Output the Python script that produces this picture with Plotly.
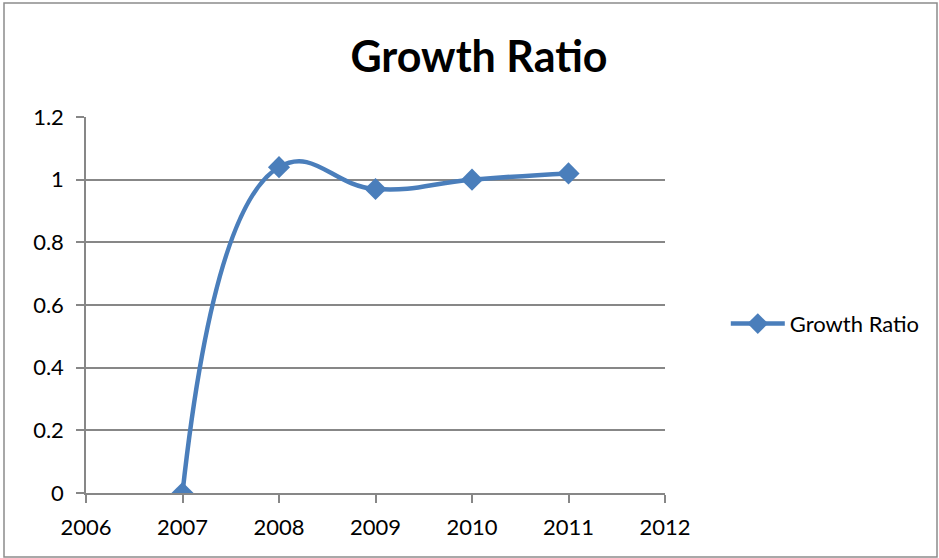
import plotly.graph_objects as go

# Growth ratio by year
years = [2007, 2008, 2009, 2010, 2011]
growth_ratio = [0.0, 1.04, 0.97, 1.0, 1.02]
x_ticks = [2006, 2007, 2008, 2009, 2010, 2011, 2012]
y_ticks = [0, 0.2, 0.4, 0.6, 0.8, 1, 1.2]

FONT = "Lato, 'Open Sans', sans-serif"
BLUE = "#4A7EBB"
GRID = "#878787"

fig = go.Figure(
    go.Scatter(
        x=years,
        y=growth_ratio,
        mode="lines+markers",
        name="Growth Ratio",
        line=dict(color=BLUE, width=4.5, shape="spline", smoothing=1.3),
        marker=dict(symbol="diamond", size=17, color=BLUE),
    )
)

fig.update_layout(
    width=939,
    height=558,
    margin=dict(l=86, r=274, t=117, b=65),
    paper_bgcolor="white",
    plot_bgcolor="white",
    font=dict(family=FONT, color="black", size=22),
    title=dict(
        text="<b>Growth Ratio</b>",
        x=479 / 939,
        xanchor="center",
        y=1 - 57 / 558,
        yanchor="middle",
        font=dict(family=FONT, size=43, color="black"),
    ),
    showlegend=True,
    legend=dict(
        x=1.105,
        y=0.45,
        xanchor="left",
        yanchor="middle",
        itemwidth=54,
        font=dict(family=FONT, size=22, color="black"),
        bgcolor="rgba(0,0,0,0)",
    ),
    xaxis=dict(
        range=[2006, 2012],
        tickvals=x_ticks,
        ticktext=[str(v) for v in x_ticks],
        showgrid=False,
        zeroline=False,
        showline=True,
        linecolor=GRID,
        linewidth=1.5,
        ticks="outside",
        ticklen=8,
        tickcolor=GRID,
        tickwidth=1.5,
        ticklabelstandoff=6,
    ),
    yaxis=dict(
        range=[0, 1.2],
        tickvals=y_ticks,
        ticktext=["0", "0.2", "0.4", "0.6", "0.8", "1", "1.2"],
        showgrid=True,
        gridcolor=GRID,
        gridwidth=1.5,
        zeroline=False,
        showline=True,
        linecolor=GRID,
        linewidth=1.5,
        ticks="outside",
        ticklen=8,
        tickcolor=GRID,
        tickwidth=1.5,
        ticklabelstandoff=8,
    ),
    shapes=[
        dict(
            type="rect",
            xref="paper",
            yref="paper",
            x0=(4 - 86) / 579,
            x1=(937 - 86) / 579,
            y0=(493 - 557) / 376,
            y1=(493 - 3) / 376,
            line=dict(color="#8C8C8C", width=1.5),
            layer="below",
        )
    ],
)

fig.write_html("out.html")
